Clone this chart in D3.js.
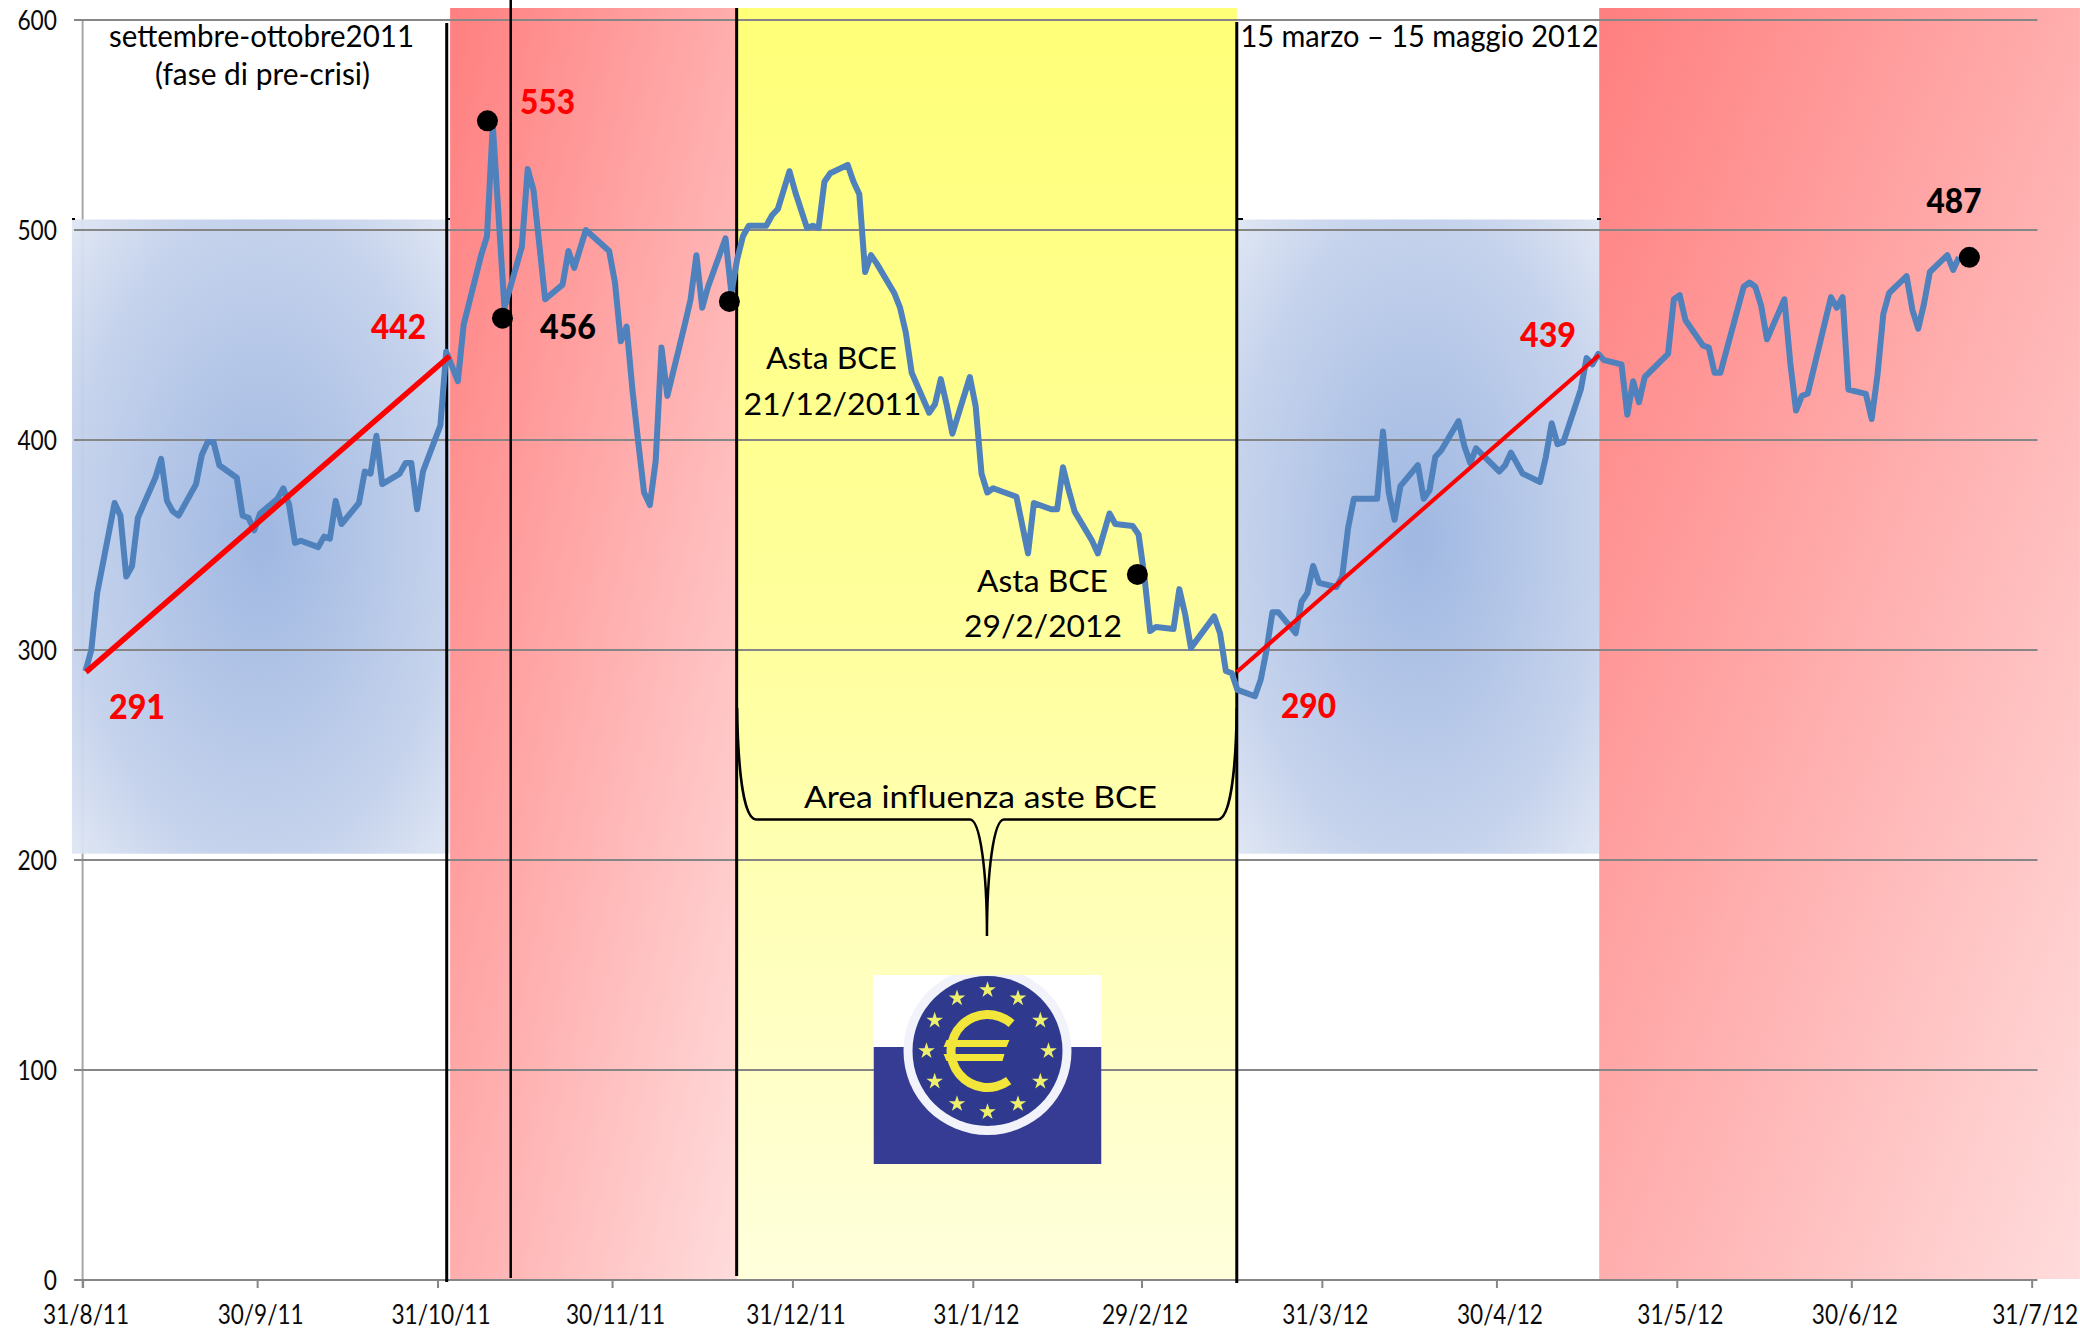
<!DOCTYPE html>
<html>
<head>
<meta charset="utf-8">
<script src="https://cdn.jsdelivr.net/npm/d3@7"></script>
<style>
    body { margin: 0; background: #fff; }
    svg { display: block; font-family: Lato, sans-serif; }
</style>
</head>
<body>
<div id="chart"></div>
<script>
// Series: days since 31/8/2011 and the value read on that day
const days = [0,1,2,5,6,7,8,9,12,13,14,15,16,19,20,21,22,23,26,27,28,29,30,33,34,35,36,37,40,41,42,43,44,47,48,49,50,51,54,55,56,57,58,61,62,64,65,68,69,70,72,75,76,77,79,82,83,84,86,90,91,92,93,94,95,96,97,98,99,100,103,104,105,106,107,110,111,112,113,114,117,118,119,120,121,122,124,125,126,127,128,131,132,133,134,135,136,139,140,141,142,145,146,147,148,149,152,153,154,155,156,160,162,163,166,167,168,169,170,173,174,176,177,180,181,182,183,184,187,188,189,190,194,195,196,197,198,201,202,203,204,205,208,209,210,211,212,215,216,217,218,222,223,224,225,226,229,230,231,232,233,236,237,238,239,243,244,245,247,250,251,252,253,254,257,258,259,260,261,264,265,266,267,268,272,273,274,275,278,279,280,281,285,286,287,288,289,292,293,294,295,296,300,301,302,303,306,307,308,309,310,313,314,315,316,317,320,321,322];
const values = [290,300,327,370,364,335,340,363,382,391,371,366,364,379,393,399,399,388,382,364,363,357,365,372,377,369,351,352,349,354,353,371,360,370,385,384,402,379,384,389,389,367,385,407,442,428,455,488,497,550,463,492,529,519,467,474,490,482,500,490,475,447,454,424,399,375,369,390,444,421,455,467,488,463,473,496,470,486,497,502,502,507,510,519,528,518,501,502,501,523,527,531,523,517,480,488,484,470,463,451,432,413,417,429,417,403,430,416,384,375,377,373,346,370,367,367,387,376,366,352,346,365,360,359,355,335,309,311,310,329,317,301,316,308,290,289,281,278,286,300,318,318,308,323,327,340,332,330,335,358,372,372,404,375,362,378,388,372,376,392,395,409,397,389,396,385,388,394,384,380,392,408,398,399,424,439,436,441,438,436,412,428,418,430,441,467,469,457,445,444,432,432,473,475,473,464,448,467,437,414,421,422,468,463,468,424,422,410,431,460,470,478,462,453,465,480,488,481,487];

const yTicks = [0, 100, 200, 300, 400, 500, 600];
const xTickDates = ['2011-08-31','2011-09-30','2011-10-31','2011-11-30','2011-12-31','2012-01-31','2012-02-29','2012-03-31','2012-04-30','2012-05-31','2012-06-30','2012-07-31'];

// Black dots: [day, value]
const dots = [[69.6, 552], [72.2, 458], [111.2, 466], [181.3, 336], [324.3, 487]];
// Red trend lines: [day, value, day, value]
const trends = [[0.6, 289.5, 63.1, 440], [198.4, 289.5, 260.7, 440.5]];
// Shaded phases in days
const bluePhases = [[-1.8, 63.2], [198.4, 260.7]];
const redPhases = [[63.2, 112.5], [260.7, 343.3]];
const yellowPhase = [112.5, 198.4];
// Vertical black lines: [day, top px, bottom px, width]
const dividers = [[62.6, 23, 1282, 3], [73.6, 0, 1278, 2.5], [112.45, 8, 1276, 3], [198.4, 22, 1283, 3]];

const width = 2080, height = 1333;
const start = new Date('2011-08-31T00:00:00Z');
const x = d3.scaleUtc().domain([start, d3.utcDay.offset(start, 336)]).range([82.6, 2037.5]);
const y = d3.scaleLinear().domain([0, 600]).range([1280, 20]);
const xDay = n => x(d3.utcHour.offset(start, n * 24));

// Tick labels are narrower than the font we have, squeeze them to digit widths
const tickWidth = s => s.replace(/\//g, '').length * 13.2 + (s.length - s.replace(/\//g, '').length) * 10;

const svg = d3.select('#chart').append('svg').attr('width', width).attr('height', height);
const defs = svg.append('defs');

// Gradients
const red = defs.append('linearGradient').attr('id', 'red')
    .attr('x1', 0).attr('y1', 0).attr('x2', 1).attr('y2', 1);
red.append('stop').attr('offset', 0).attr('stop-color', '#ff7f7f');
red.append('stop').attr('offset', 1).attr('stop-color', '#ffdcdc');

const yellow = defs.append('linearGradient').attr('id', 'yellow')
    .attr('x1', 0).attr('y1', 0).attr('x2', 0).attr('y2', 1);
yellow.append('stop').attr('offset', 0).attr('stop-color', '#ffff78');
yellow.append('stop').attr('offset', 0.5).attr('stop-color', '#ffff9e');
yellow.append('stop').attr('offset', 1).attr('stop-color', '#ffffdc');

const blue = defs.append('radialGradient').attr('id', 'blue')
    .attr('cx', 0.5).attr('cy', 0.5).attr('r', 0.72);
blue.append('stop').attr('offset', 0).attr('stop-color', '#99b3e0');
blue.append('stop').attr('offset', 0.7).attr('stop-color', '#c2d0eb');
blue.append('stop').attr('offset', 1).attr('stop-color', '#e0e7f4');

// Y axis line sits under the shading
svg.append('line').attr('x1', x(start)).attr('x2', x(start))
    .attr('y1', y(600)).attr('y2', y(0) + 8)
    .attr('stroke', '#a6a6a6').attr('stroke-width', 2);

// Shaded phases
svg.selectAll('.blue-phase').data(bluePhases).enter().append('rect')
    .attr('class', 'blue-phase')
    .attr('x', d => xDay(d[0])).attr('width', d => xDay(d[1]) - xDay(d[0]))
    .attr('y', y(505)).attr('height', y(203) - y(505))
    .attr('fill', 'url(#blue)').attr('opacity', 0.94);

svg.selectAll('.red-phase').data(redPhases).enter().append('rect')
    .attr('class', 'red-phase')
    .attr('x', d => xDay(d[0])).attr('width', d => xDay(d[1]) - xDay(d[0]))
    .attr('y', 8).attr('height', 1271)
    .attr('fill', 'url(#red)');

svg.append('rect')
    .attr('x', xDay(yellowPhase[0])).attr('width', xDay(yellowPhase[1]) - xDay(yellowPhase[0]))
    .attr('y', 8).attr('height', 1271)
    .attr('fill', 'url(#yellow)');

// Gridlines
svg.selectAll('.grid').data(yTicks).enter().append('line')
    .attr('class', 'grid')
    .attr('x1', 74).attr('x2', x.range()[1])
    .attr('y1', d => y(d)).attr('y2', d => y(d))
    .attr('stroke', '#868686').attr('stroke-width', 2.2);

// Axes
const yAxis = d3.axisLeft(y).tickValues(yTicks).tickSize(0).tickPadding(25.6);
svg.append('g').attr('transform', `translate(${x(start)},0)`).call(yAxis)
    .call(g => g.select('.domain').remove())
    .selectAll('text')
    .attr('dy', 9.5).style('font-size', '26px').style('font-family', 'Lato, sans-serif').attr('fill', '#0a0a0a')
    .attr('textLength', d => tickWidth(String(d))).attr('lengthAdjust', 'spacingAndGlyphs');

const parseDay = d3.utcParse('%Y-%m-%d');
const tickFormat = d3.utcFormat('%-d/%-m/%y');
const xAxis = d3.axisBottom(x).tickValues(xTickDates.map(parseDay)).tickFormat(tickFormat).tickSize(8);
svg.append('g').attr('transform', `translate(0,${y(0)})`).call(xAxis)
    .call(g => g.select('.domain').remove())
    .call(g => g.selectAll('line').attr('stroke', '#868686').attr('stroke-width', 2))
    .selectAll('text')
    .attr('x', 3).attr('y', 28).attr('dy', 16)
    .style('font-size', '26px').style('font-family', 'Lato, sans-serif').attr('fill', '#0a0a0a')
    .attr('textLength', d => tickWidth(tickFormat(d))).attr('lengthAdjust', 'spacingAndGlyphs');

// Little corner marks left on the blue boxes
const cornerMarks = svg.append('g').attr('stroke', '#000').attr('stroke-width', 2);
[[72, 75], [446, 450], [1238, 1243], [1597, 1601]].forEach(c => {
    cornerMarks.append('line').attr('x1', c[0]).attr('x2', c[1]).attr('y1', 219).attr('y2', 219);
});

// Vertical dividers
svg.selectAll('.divider').data(dividers).enter().append('line')
    .attr('class', 'divider')
    .attr('x1', d => xDay(d[0])).attr('x2', d => xDay(d[0]))
    .attr('y1', d => d[1]).attr('y2', d => d[2])
    .attr('stroke', '#000').attr('stroke-width', d => d[3]);

// Brace under the yellow phase
const braceL = xDay(yellowPhase[0]), braceR = xDay(yellowPhase[1]), braceMid = (braceL + braceR) / 2;
svg.append('path')
    .attr('d', `M${braceL},708 C${braceL + 1},780 ${braceL + 8},819.5 ${braceL + 19},819.5
                L${braceMid - 17},819.5 C${braceMid - 7},819.5 ${braceMid},870 ${braceMid},936
                C${braceMid},870 ${braceMid + 7},819.5 ${braceMid + 17},819.5
                L${braceR - 19},819.5 C${braceR - 8},819.5 ${braceR - 1},780 ${braceR},708`)
    .attr('fill', 'none').attr('stroke', '#000').attr('stroke-width', 2.5);

// ECB logo
defs.append('clipPath').attr('id', 'logo-clip').append('rect')
    .attr('x', -114).attr('y', -76).attr('width', 228).attr('height', 189);
const logo = svg.append('g').attr('transform', 'translate(987.5,1051)');
const logoBox = logo.append('g').attr('clip-path', 'url(#logo-clip)');
logoBox.append('rect').attr('x', -114).attr('y', -76).attr('width', 228).attr('height', 72).attr('fill', '#fff');
logoBox.append('rect').attr('x', -114).attr('y', -4).attr('width', 228).attr('height', 117).attr('fill', '#363b93');
logoBox.append('circle').attr('r', 84).attr('fill', '#f2f3fa');
logoBox.append('circle').attr('r', 75).attr('fill', '#2f3a8e');
const star = d3.symbol().type(d3.symbolStar).size(85);
logo.selectAll('.star').data(d3.range(12)).enter().append('path')
    .attr('class', 'star')
    .attr('d', star)
    .attr('transform', d => `translate(${61 * Math.sin(d * Math.PI / 6)},${-61 * Math.cos(d * Math.PI / 6)})`)
    .attr('fill', '#eef06c');
logo.append('path')
    .attr('d', d3.arc().innerRadius(32).outerRadius(41).startAngle(Math.PI - 0.62).endAngle(2 * Math.PI + 0.72)())
    .attr('fill', '#f3e63a');
logo.append('path').attr('d', 'M-41,-11 L22,-11 L19,-4 L-44,-4 Z').attr('fill', '#f3e63a');
logo.append('path').attr('d', 'M-44,3 L17,3 L15,10 L-41,10 Z').attr('fill', '#f3e63a');

// Main line
const points = d3.zip(days, values);
const line = d3.line().x(d => xDay(d[0] + 0.5)).y(d => y(d[1]));
svg.append('path').datum(points)
    .attr('d', line)
    .attr('fill', 'none').attr('stroke', '#4f81bd')
    .attr('stroke-width', 6).attr('stroke-linejoin', 'round');

// Trend lines
svg.selectAll('.trend').data(trends).enter().append('line')
    .attr('class', 'trend')
    .attr('x1', d => xDay(d[0])).attr('y1', d => y(d[1]))
    .attr('x2', d => xDay(d[2])).attr('y2', d => y(d[3]))
    .attr('stroke', '#ff0000').attr('stroke-width', (d, i) => i ? 4 : 5.5);

// Dots
svg.selectAll('.dot').data(dots).enter().append('circle')
    .attr('class', 'dot')
    .attr('cx', d => xDay(d[0])).attr('cy', d => y(d[1])).attr('r', 10.5)
    .attr('fill', '#000');

// Text labels: text, left px, baseline px, width px
const plainLabels = [
    ['settembre-ottobre2011', 109, 47, 305],
    ['(fase di pre-crisi)', 155, 84.5, 215],
    ['15 marzo \u2013 15 maggio 2012', 1240.5, 47, 358],
    ['Asta BCE', 766, 369, 131],
    ['21/12/2011', 743.5, 415, 178],
    ['Asta BCE', 977, 592, 131],
    ['29/2/2012', 964, 637, 158],
    ['Area influenza aste BCE', 804, 808, 353]
];
const boldLabels = [
    ['553', 520, 113.5, 55, '#ff0000'],
    ['442', 371, 339, 55, '#ff0000'],
    ['456', 540, 339, 56, '#000'],
    ['291', 109, 719, 56, '#ff0000'],
    ['439', 1520, 347, 56, '#ff0000'],
    ['290', 1281, 717.5, 55, '#ff0000'],
    ['487', 1926.5, 213, 55, '#000']
];

svg.selectAll('.plain').data(plainLabels).enter().append('text')
    .attr('class', 'plain')
    .attr('x', d => d[1]).attr('y', d => d[2])
    .attr('textLength', d => d[3]).attr('lengthAdjust', 'spacingAndGlyphs')
    .style('font-size', '30px').attr('fill', '#000')
    .text(d => d[0]);

svg.selectAll('.bold').data(boldLabels).enter().append('text')
    .attr('class', 'bold')
    .attr('x', d => d[1]).attr('y', d => d[2])
    .attr('textLength', d => d[3]).attr('lengthAdjust', 'spacingAndGlyphs')
    .style('font-size', '35px').style('font-weight', 900).attr('fill', d => d[4])
    .text(d => d[0]);
</script>
</body>
</html>
